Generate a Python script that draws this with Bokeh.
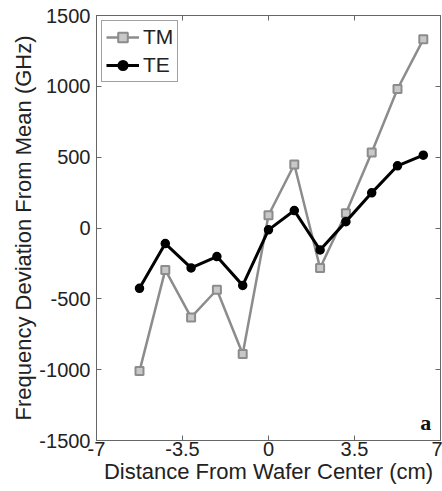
from bokeh.plotting import figure
from bokeh.models import Range1d, FixedTicker, LinearAxis, Legend, LegendItem, Label
from bokeh.embed import file_html
from bokeh.resources import INLINE

# Data
x_cm = [-5.25, -4.2, -3.15, -2.1, -1.05, 0.0, 1.05, 2.1, 3.15, 4.2, 5.25, 6.3]
tm_ghz = [-1010, -296, -631, -436, -890, 90, 448, -282, 104, 533, 981, 1332]
te_ghz = [-426, -110, -282, -202, -405, -13, 123, -155, 45, 248, 439, 514]

x_ticks = [-7, -3.5, 0, 3.5, 7]
x_tick_labels = ["-7", "-3.5", "0", "3.5", "7"]
y_ticks = [-1500, -1000, -500, 0, 500, 1000, 1500]
y_tick_labels = ["-1500", "-1000", "-500", "0", "500", "1000", "1500"]

FONT = "Liberation Sans"
TXT = "#222222"
FRAME = "#666666"
TM_COLOR = "#8c8c8c"
TE_COLOR = "#000000"

p = figure(width=442, height=491, output_backend="svg", toolbar_location=None,
           x_range=Range1d(-7, 7), y_range=Range1d(-1500, 1500),
           min_border_left=96, min_border_right=2, min_border_top=15, min_border_bottom=51,
           x_axis_label="Distance From Wafer Center (cm)",
           y_axis_label="Frequency Deviation From Mean (GHz)")
p.grid.visible = False
p.outline_line_color = FRAME
p.background_fill_color = "white"
p.border_fill_color = "white"

def style_axis(ax, ticks, labels, show_labels=True):
    ax.ticker = FixedTicker(ticks=ticks)
    ax.major_tick_in = 5
    ax.major_tick_out = 0
    ax.minor_tick_line_color = None
    ax.axis_line_color = FRAME
    ax.major_tick_line_color = FRAME
    if show_labels:
        ax.major_label_overrides = {t: l for t, l in zip(ticks, labels)}
        ax.major_label_text_font = FONT
        ax.major_label_text_color = TXT
        ax.major_label_text_font_size = "20px"
    else:
        ax.major_label_text_color = None
        ax.major_label_standoff = 0

xa = p.xaxis[0]
ya = p.yaxis[0]
style_axis(xa, x_ticks, x_tick_labels)
style_axis(ya, y_ticks, y_tick_labels)
xa.major_label_standoff = 1
ya.major_label_standoff = 6
for ax in (xa, ya):
    ax.axis_label_text_font = FONT
    ax.axis_label_text_font_size = "22px"
    ax.axis_label_text_font_style = "normal"
    ax.axis_label_text_color = TXT
    ax.axis_label_standoff = 0

top = LinearAxis()
style_axis(top, x_ticks, x_tick_labels, show_labels=False)
p.add_layout(top, "above")
right = LinearAxis()
style_axis(right, y_ticks, y_tick_labels, show_labels=False)
p.add_layout(right, "right")

tm_line = p.line(x_cm, tm_ghz, line_color=TM_COLOR, line_width=2.5)
tm_pts = p.scatter(x_cm, tm_ghz, marker="square", size=8, line_color=TM_COLOR,
                   fill_color="#c8c8c8", line_width=2)
te_line = p.line(x_cm, te_ghz, line_color=TE_COLOR, line_width=3)
te_pts = p.scatter(x_cm, te_ghz, marker="circle", size=8, line_color=TE_COLOR,
                   fill_color=TE_COLOR, line_width=1.5)

legend = Legend(items=[LegendItem(label="TM", renderers=[tm_line, tm_pts]),
                       LegendItem(label="TE", renderers=[te_line, te_pts])],
                location="top_left")
legend.margin = 5
legend.padding = 4
legend.spacing = 4
legend.glyph_width = 33
legend.glyph_height = 24
legend.label_height = 24
legend.label_standoff = 4
legend.label_text_font = FONT
legend.label_text_font_size = "21px"
legend.label_text_color = TXT
legend.border_line_color = "#444444"
legend.border_line_width = 1
legend.background_fill_alpha = 1
p.add_layout(legend)

p.add_layout(Label(x=6.4, y=-1376, text="a", text_align="center", text_baseline="middle",
                   text_font="Liberation Serif", text_font_style="bold",
                   text_font_size="22px", text_color="#111111"))

open("out.html", "w").write(file_html(p, INLINE))
